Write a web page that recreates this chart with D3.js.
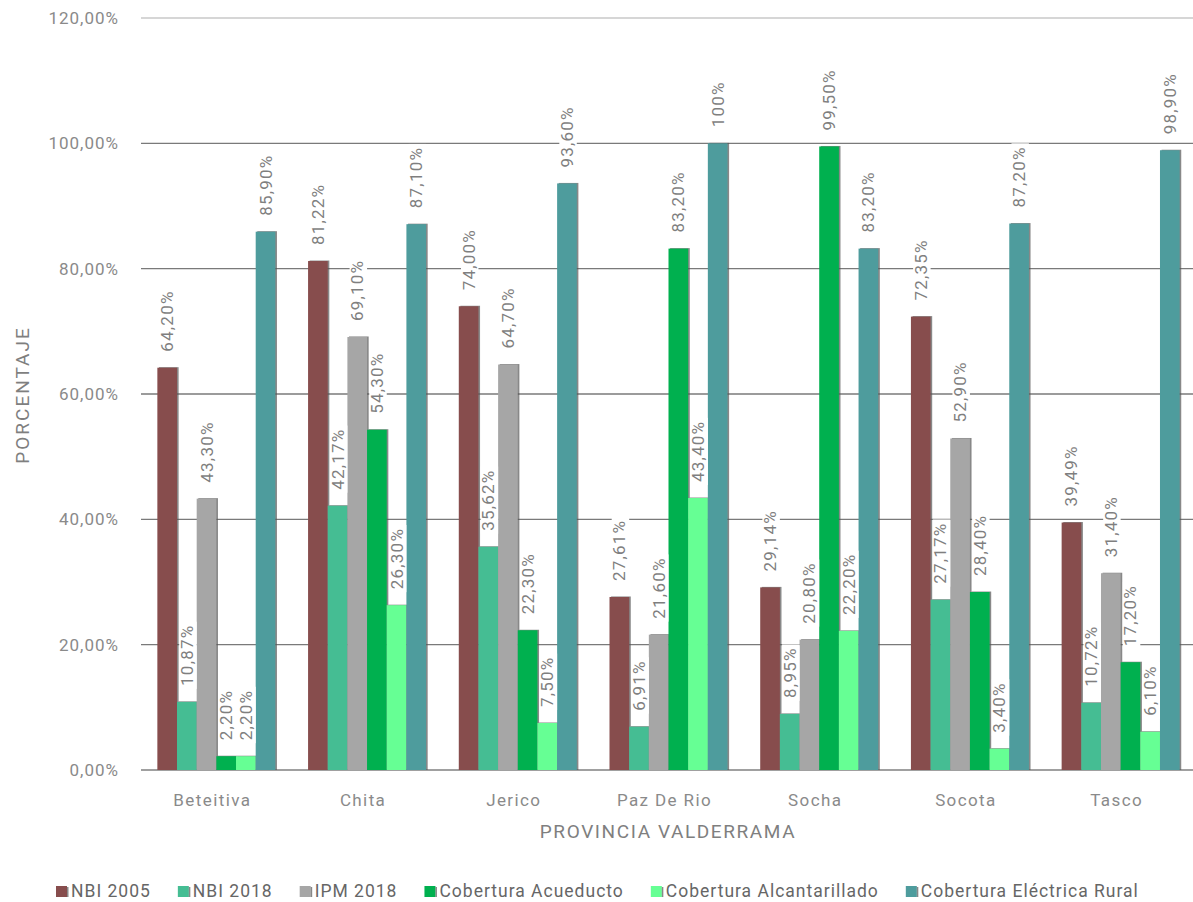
<!DOCTYPE html>
<html>
<head>
<meta charset="utf-8">
<script src="https://cdn.jsdelivr.net/npm/d3@7"></script>
<style>
  body { margin: 0; background: #fff; }
  text { font-family: Roboto, "Liberation Sans", sans-serif; }
</style>
</head>
<body>
<div id="chart"></div>
<script>
const MUNICIPIOS = ["Beteitiva", "Chita", "Jerico", "Paz De Rio", "Socha", "Socota", "Tasco"];
const SERIES = ["NBI 2005", "NBI 2018", "IPM 2018", "Cobertura Acueducto", "Cobertura Alcantarillado", "Cobertura Eléctrica Rural"];
const COLORS = ["#874d4d", "#45bd93", "#a6a6a6", "#00b04f", "#66ff94", "#4e9c9d"];

const NBI_2005 = [64.20, 81.22, 74.00, 27.61, 29.14, 72.35, 39.49];
const NBI_2018 = [10.87, 42.17, 35.62, 6.91, 8.95, 27.17, 10.72];
const IPM_2018 = [43.30, 69.10, 64.70, 21.60, 20.80, 52.90, 31.40];
const ACUEDUCTO = [2.20, 54.30, 22.30, 83.20, 99.50, 28.40, 17.20];
const ALCANTARILLADO = [2.20, 26.30, 7.50, 43.40, 22.20, 3.40, 6.10];
const ELECTRICA = [85.90, 87.10, 93.60, 100, 83.20, 87.20, 98.90];

const Y_TICKS = [0, 20, 40, 60, 80, 100, 120];

var width = 1193, height = 902;
var values = [NBI_2005, NBI_2018, IPM_2018, ACUEDUCTO, ALCANTARILLADO, ELECTRICA];

var svg = d3.select("#chart").append("svg")
  .attr("width", width).attr("height", height);

var x = d3.scaleBand().domain(MUNICIPIOS).range([141, 1196])
  .paddingInner(0.217).paddingOuter(0.1085);
var x1 = d3.scaleBand().domain(d3.range(SERIES.length)).range([0, x.bandwidth()]);
var y = d3.scaleLinear().domain([0, 120]).range([770, 18]);

function fmt(v) {
  if (v === 100) return "100%";
  return d3.format(".2f")(v).replace(".", ",") + "%";
}

// gridlines
svg.append("g").selectAll("line").data(Y_TICKS).enter().append("line")
  .attr("x1", 141).attr("x2", width)
  .attr("y1", function (d) { return y(d); })
  .attr("y2", function (d) { return y(d); })
  .attr("stroke", function (d) { return d === 120 ? "#c8c8c8" : (d === 0 ? "#a0a0a0" : "#7a7a7a"); })
  .attr("stroke-width", function (d) { return d === 0 ? 2 : 1.3; });

// y tick labels
svg.append("g").selectAll("text").data(Y_TICKS).enter().append("text")
  .attr("x", 119)
  .attr("y", function (d) { return y(d) + 6; })
  .attr("text-anchor", "end")
  .attr("fill", "#8a8a8a")
  .style("font-size", "17px")
  .style("letter-spacing", "1px")
  .text(function (d) { return d3.format(".2f")(d).replace(".", ",") + "%"; });

// bars
values.forEach(function (arr, s) {
  var g = svg.append("g");
  g.selectAll("rect.shadow").data(arr).enter().append("rect")
    .attr("class", "shadow")
    .attr("x", function (d, i) { return x(MUNICIPIOS[i]) + x1(s) + 1.6; })
    .attr("y", function (d) { return y(d) - 0.5; })
    .attr("width", x1.bandwidth())
    .attr("height", function (d) { return y(0) - y(d) + 0.5; })
    .attr("fill", "#555").attr("opacity", 0.7);
  g.selectAll("rect.bar").data(arr).enter().append("rect")
    .attr("class", "bar")
    .attr("x", function (d, i) { return x(MUNICIPIOS[i]) + x1(s); })
    .attr("y", function (d) { return y(d); })
    .attr("width", x1.bandwidth())
    .attr("height", function (d) { return y(0) - y(d); })
    .attr("fill", COLORS[s]);
});

// data labels (rotated, white boxes)
values.forEach(function (arr, s) {
  arr.forEach(function (v, i) {
    var cx = x(MUNICIPIOS[i]) + x1(s) + x1.bandwidth() / 2;
    var by = y(v);
    var lg = svg.append("g").attr("transform", "translate(" + cx + "," + (by - 16) + ") rotate(-90)");
    var bg = lg.append("rect").attr("fill", "#fff");
    var t = lg.append("text")
      .attr("x", 0).attr("y", 6)
      .attr("fill", "#7f7f7f")
      .style("font-size", "17px")
      .style("letter-spacing", "1.2px")
      .text(fmt(v));
    var len = t.node().getComputedTextLength();
    bg.attr("x", -3).attr("y", -x1.bandwidth() / 2 + 2.2)
      .attr("width", len + 6).attr("height", x1.bandwidth() - 2.2);
  });
});

// x axis labels
svg.append("g").selectAll("text").data(MUNICIPIOS).enter().append("text")
  .attr("x", function (d) { return x(d) + x.bandwidth() / 2 - 4; })
  .attr("y", 806)
  .attr("text-anchor", "middle")
  .attr("fill", "#8a8a8a")
  .style("font-size", "17px")
  .style("letter-spacing", "1.4px")
  .text(function (d) { return d; });

// axis titles
svg.append("text")
  .attr("x", 668).attr("y", 838)
  .attr("text-anchor", "middle")
  .attr("fill", "#7f7f7f")
  .style("font-size", "19px")
  .style("letter-spacing", "1.6px")
  .text("PROVINCIA VALDERRAMA");

svg.append("text")
  .attr("transform", "translate(29,395) rotate(-90)")
  .attr("text-anchor", "middle")
  .attr("fill", "#7f7f7f")
  .style("font-size", "19px")
  .style("letter-spacing", "2px")
  .text("PORCENTAJE");

// legend
var lx = 56;
SERIES.forEach(function (name, s) {
  svg.append("rect")
    .attr("x", lx).attr("y", 886).attr("width", 11).attr("height", 11)
    .attr("fill", COLORS[s]);
  svg.append("rect")
    .attr("x", lx + 11).attr("y", 887).attr("width", 1.5).attr("height", 10)
    .attr("fill", "#555").attr("opacity", 0.7);
  var t = svg.append("text")
    .attr("x", lx + 15).attr("y", 897)
    .attr("fill", "#666")
    .style("font-size", "17.5px")
    .style("letter-spacing", "1px")
    .text(name);
  lx += 15 + t.node().getComputedTextLength() + 27;
});
</script>
</body>
</html>
